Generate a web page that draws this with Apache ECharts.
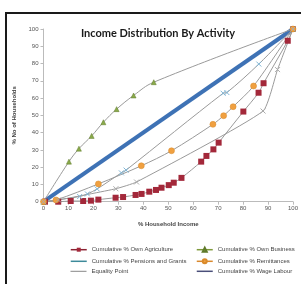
<!DOCTYPE html>
<html>
<head>
<meta charset="utf-8">
<script src="https://cdn.jsdelivr.net/npm/echarts@6/dist/echarts.min.js"></script>
<style>
  html, body { margin: 0; padding: 0; background: #fff; }
  #chart { width: 301px; height: 284px; }
</style>
</head>
<body>
<div id="chart"></div>
<script>
// 数据 (% household income, % no of households)
var agriculture = [[0.6, 0], [5.9, 0], [10.9, 0.4], [15.9, 0.4], [19, 0.6], [22, 1.2], [28.9, 2.3], [31.9, 2.7],
    [36.9, 3.9], [39.3, 4.5], [42.4, 5.8], [45.1, 6.8], [47.3, 8.1], [50.2, 9.6], [52.2, 11], [55.3, 13.8],
    [63.2, 23.2], [65.3, 26.5], [68.1, 30.3], [70.2, 34.2], [80.1, 52.2], [86.2, 63.1], [88.2, 68.6],
    [97.9, 93.2], [100, 100]];
var ownBusiness = [[0, 0], [10.2, 23.2], [14.2, 30.7], [19.3, 38.1], [24, 46], [29.3, 53.6], [36.1, 61.5],
    [44.2, 69.2], [100, 100]];
var pensions = [[0, 0], [14.5, 3], [17.6, 4.5], [21.5, 7.4], [31.2, 16.7], [33.1, 18.3], [72, 62.8],
    [73.5, 63.2], [86.3, 79.7], [100, 100]];
var remittances = [[0, 0], [5, 1], [22, 10.3], [39.2, 20.8], [51.3, 29.5], [67.9, 44.8], [72.2, 49.8],
    [76, 55], [84.2, 67], [100, 100]];
var equality = [[0, 0], [100, 100]];
var wageLabour = [[0, 0], [6, 1], [29, 7.5], [37.3, 11.4], [88, 52.5], [93.8, 76.5], [100, 100]];
var names = ['Cumulative % Own Agriculture', 'Cumulative % Own Business', 'Cumulative % Pensions and Grants',
    'Cumulative % Remittances', 'Equality Point', 'Cumulative % Wage Labour'];
var legendColors = ['#8b2232', '#7f9a3c', '#3d8a9a', '#d9892e', '#888888', '#4a4f7a'];

var chart = echarts.init(document.getElementById('chart'));
var trend = { color: '#9a9a9a', width: 1 };
var xMark = 'path://M0,0L10,10M10,0L0,10';

// 图例: 两列三行
var legendPos = [[70, 246.7], [196, 246.7], [70, 258.3], [196, 258.3], [70, 268.3], [196, 268.3]];
var legends = [];
for (var i = 0; i < names.length; i++) {
    var item = { name: names[i], lineStyle: { color: legendColors[i], width: i === 4 ? 1 : 1.5 } };
    if (i === 2 || i === 4 || i === 5) {
        // 只画线, 不画标记
        item.itemStyle = { color: 'transparent', borderColor: 'transparent', borderWidth: 0 };
    }
    legends.push({
        orient: 'horizontal', left: legendPos[i][0], top: legendPos[i][1], padding: 0,
        itemWidth: 16, itemHeight: 5, itemGap: 2,
        textStyle: { fontSize: 6, color: '#444' },
        data: [item]
    });
}

var option = {
    animation: false,
    title: {
        text: 'Income Distribution By Activity',
        left: 153,
        textAlign: 'center',
        top: 23,
        textStyle: { fontSize: 11, fontWeight: 'bold', color: '#1a1a1a', fontFamily: 'Lato' }
    },
    graphic: [{
        type: 'rect',
        shape: { x: 6, y: 13, width: 400, height: 400 },
        style: { fill: 'none', stroke: '#1a1a1a', lineWidth: 2 },
        z: 100
    }],
    grid: { left: 43.5, right: 7.5, top: 29, bottom: 82.3 },
    xAxis: {
        type: 'value', min: 0, max: 100, interval: 10,
        name: '% Household Income', nameLocation: 'middle', nameGap: 20,
        nameTextStyle: { fontSize: 6, fontWeight: 'bold', color: '#444' },
        axisLine: { lineStyle: { color: '#bbb' } },
        axisTick: { show: true, length: 3, lineStyle: { color: '#bbb' } },
        axisLabel: { fontSize: 6, color: '#555', margin: 4 },
        splitLine: { show: false }
    },
    yAxis: {
        type: 'value', min: 0, max: 100, interval: 10,
        name: '% No of Households', nameLocation: 'middle', nameGap: 21,
        nameTextStyle: { fontSize: 6, fontWeight: 'bold', color: '#444' },
        axisLine: { show: true, lineStyle: { color: '#bbb' } },
        axisTick: { show: true, length: 3, lineStyle: { color: '#bbb' } },
        axisLabel: { fontSize: 6, color: '#555', margin: 5 },
        splitLine: { show: false }
    },
    legend: legends,
    series: [{
        name: names[4], type: 'line', data: equality, symbol: 'none',
        lineStyle: { color: '#3e72b5', width: 4 }, itemStyle: { color: '#3e72b5' }, z: 1
    }, {
        name: names[0], type: 'line', data: agriculture, smooth: 0.3,
        symbol: 'rect', symbolSize: 6,
        lineStyle: trend, itemStyle: { color: '#a3283a' }, z: 3
    }, {
        name: names[1], type: 'line', data: ownBusiness, smooth: 0.4,
        symbol: 'triangle', symbolSize: 5,
        lineStyle: trend, itemStyle: { color: '#8aaa4a', borderColor: '#5f7a2a', borderWidth: 0.5 }, z: 3
    }, {
        name: names[2], type: 'line', data: pensions, smooth: 0.3,
        symbol: xMark, symbolSize: 5,
        lineStyle: trend, itemStyle: { color: 'none', borderColor: '#7fb5d5', borderWidth: 1 }, z: 3
    }, {
        name: names[3], type: 'line', data: remittances, smooth: 0.3,
        symbol: 'circle', symbolSize: 6,
        lineStyle: trend, itemStyle: { color: '#f0a040', borderColor: '#d98a2a', borderWidth: 0.5 }, z: 3
    }, {
        name: names[5], type: 'line', data: wageLabour, smooth: 0.15,
        symbol: xMark, symbolSize: 5,
        lineStyle: trend, itemStyle: { color: 'none', borderColor: '#aaa', borderWidth: 1 }, z: 3
    }]
};
chart.setOption(option);
</script>
</body>
</html>
